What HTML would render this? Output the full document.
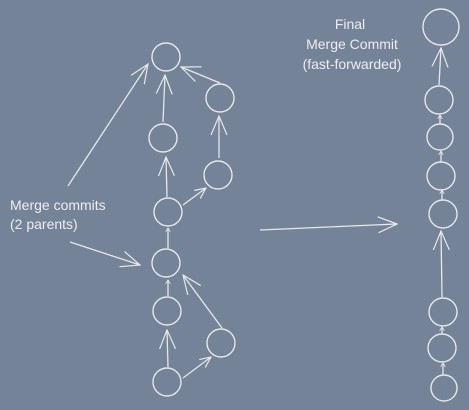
<!DOCTYPE html>
<html><head><style>
html,body{margin:0;padding:0;background:#758398;}
svg{display:block}
text{font-family:"Liberation Sans",sans-serif;fill:#eceef0;font-size:14px}
</style></head><body>
<svg width="469" height="410" viewBox="0 0 469 410" xmlns="http://www.w3.org/2000/svg">
<defs>
<marker id="a" viewBox="0 0 12 12" refX="11" refY="6" markerWidth="12" markerHeight="12" markerUnits="userSpaceOnUse" orient="auto">
<path d="M0,1 L11,6 L0,11" fill="none" stroke="#e6e8ea" stroke-width="1.2"/>
</marker>
<marker id="b" viewBox="0 0 20 20" refX="19" refY="10" markerWidth="20" markerHeight="20" markerUnits="userSpaceOnUse" orient="auto">
<path d="M0,2 L19,10 L0,18" fill="none" stroke="#e6e8ea" stroke-width="1.2"/>
</marker>
<marker id="s" viewBox="0 0 6 6" refX="5" refY="3" markerWidth="5" markerHeight="5" markerUnits="userSpaceOnUse" orient="auto">
<path d="M0,0 L5,3 L0,6" fill="none" stroke="#e6e8ea" stroke-width="1"/>
</marker>
</defs>
<g fill="none" stroke="#e6e8ea" stroke-width="1.4">
<circle cx="166" cy="57" r="14"/>
<circle cx="163" cy="138" r="14"/>
<circle cx="220" cy="98" r="14"/>
<circle cx="218" cy="175" r="14"/>
<circle cx="168" cy="212" r="14"/>
<circle cx="166" cy="263" r="14"/>
<circle cx="167" cy="311" r="14"/>
<circle cx="221" cy="343" r="14"/>
<circle cx="167" cy="382" r="14"/>

<circle cx="441" cy="27" r="18"/>
<circle cx="439" cy="100" r="14"/>
<circle cx="440" cy="137" r="13"/>
<circle cx="441" cy="176" r="14"/>
<circle cx="443" cy="214" r="14"/>
<circle cx="443" cy="312" r="14"/>
<circle cx="442" cy="348" r="14"/>
<circle cx="444" cy="388" r="13"/>
</g>
<g fill="none" stroke="#e6e8ea" stroke-width="1.3" marker-end="url(#b)">
<line x1="163" y1="122" x2="165" y2="75"/>
<line x1="220" y1="83" x2="181" y2="67"/>
<line x1="68" y1="186" x2="148" y2="64"/>
<line x1="219" y1="158" x2="219" y2="116"/>
<line x1="167" y1="197" x2="166" y2="157"/>
<line x1="70" y1="242" x2="140" y2="265"/>
<line x1="222" y1="328" x2="183" y2="275"/>
<line x1="168" y1="367" x2="167" y2="330"/>
<line x1="260" y1="230" x2="397" y2="224"/>
<line x1="442" y1="297" x2="441" y2="231"/>
<line x1="439" y1="85" x2="441" y2="48"/>
</g>
<g fill="none" stroke="#e6e8ea" stroke-width="1.3" marker-end="url(#a)">
<line x1="183" y1="205" x2="206" y2="188"/>
<line x1="183" y1="378" x2="211" y2="357"/>
</g>
<g fill="none" stroke="#e6e8ea" stroke-width="1.3" marker-end="url(#s)">
<line x1="168" y1="248" x2="168" y2="228"/>
<line x1="168" y1="296" x2="168" y2="280"/>
<line x1="440" y1="124" x2="440" y2="115"/>
<line x1="441" y1="162" x2="441" y2="151"/>
<line x1="442" y1="200" x2="442" y2="190"/>
<line x1="442" y1="334" x2="442" y2="327"/>
<line x1="443" y1="375" x2="443" y2="363"/>
</g>
<text x="10" y="210">Merge commits</text>
<text x="10" y="229">(2 parents)</text>
<text x="350" y="29" text-anchor="middle">Final</text>
<text x="352" y="49" text-anchor="middle">Merge Commit</text>
<text x="352" y="69" text-anchor="middle">(fast-forwarded)</text>
</svg>
</body></html>
